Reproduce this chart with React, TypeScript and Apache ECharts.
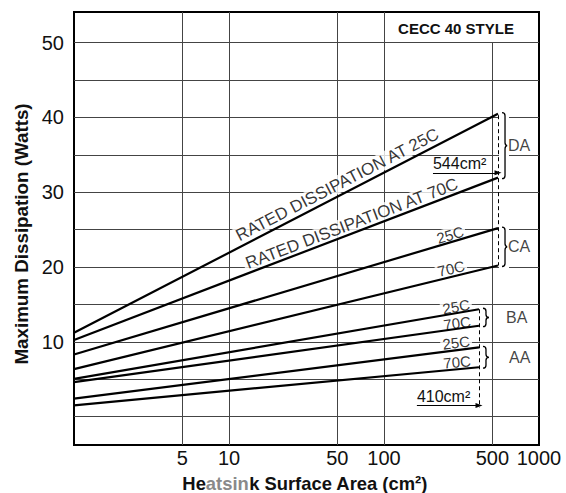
import React, { useEffect, useRef } from "react";
import * as echarts from "echarts";

// ---------- axes ----------
const xMin = 1;
const xMax = 1000;
const yMin = -3.8;
const yMax = 54.1;
const xTickLabels = [5, 10, 50, 100, 500, 1000];
const xGridLines = [5, 10, 50, 100];
const xPartialGridLine = [500];
const yTickLabels = [10, 20, 30, 40, 50];
const yGridLines = [0, 5, 10, 15, 20, 25, 30, 35, 40, 45, 50];

// ---------- curves (area cm², watts) ----------
const curveNames = ["DA 25C", "DA 70C", "CA 25C", "CA 70C", "BA 25C", "BA 70C", "AA 25C", "AA 70C"];
const startArea = [1, 1, 1, 1, 1, 1, 1, 1];
const startWatts = [11.2, 10.25, 8.3, 6.35, 5.05, 4.6, 2.4, 1.5];
const endArea = [544, 544, 544, 544, 410, 410, 410, 410];
const endWatts = [40.5, 31.95, 25.2, 20.2, 14.35, 12.15, 9.25, 6.6];

// ---------- curve annotations ----------
const curveLabels = [
  "RATED DISSIPATION AT 25C",
  "RATED DISSIPATION AT 70C",
  "25C",
  "70C",
  "25C",
  "70C",
  "25C",
  "70C",
];
const curveLabelArea = [50, 62, 267, 271, 292, 296, 292, 296];
const curveLabelWatts = [31.0, 25.8, 24.3, 19.8, 14.7, 12.5, 9.9, 7.3];

// ---------- groups ----------
const groupNames = ["DA", "CA", "BA", "AA"];
const groupArea = [544, 544, 410, 410];
const groupTopWatts = [40.5, 25.2, 14.35, 9.25];
const groupBottomWatts = [31.95, 20.2, 12.15, 6.6];
const groupLabelArea = [622, 622, 604, 631];

// ---------- area markers ----------
const areaMarkNames = ["544cm²", "410cm²"];
const areaMarkValue = [544, 410];
const areaMarkTopWatts = [40.3, 14.35];
const areaMarkBottomWatts = [20.2, 1.2];
const areaArrowStart = [207, 163];
const areaArrowWatts = [32.6, 1.47];

// ---------- styles ----------
const FONT = "'Liberation Sans', Arial, Helvetica, sans-serif";
const INK = "#111";
const curveLabelSizes = [17, 17, 15, 15, 15, 15, 15, 15];

export default function App() {
  const ref = useRef<HTMLDivElement>(null);

  useEffect(() => {
    if (!ref.current) return;
    const chart = echarts.init(ref.current, null, { renderer: "svg" });

    const gridSeries: any = {
      name: "grid",
      type: "line",
      data: [],
      silent: true,
      markLine: {
        silent: true,
        z: 1,
        symbol: ["none", "none"],
        label: { show: false },
        lineStyle: { type: "solid", color: "#444", width: 1 },
        emphasis: { disabled: true },
        data: [
          ...xGridLines.map((v) => ({ xAxis: v })),
          ...yGridLines.map((v) => ({ yAxis: v })),
          ...xPartialGridLine.map((v) => [
            { coord: [v, yMin] },
            { coord: [v, yGridLines[yGridLines.length - 1]] },
          ]),
        ],
      },
    };

    const curveSeries: any[] = curveNames.map((n, i) => ({
      name: n,
      type: "line",
      z: 10,
      silent: true,
      symbol: "none",
      lineStyle: { color: "#000", width: 2.2 },
      data: [
        [startArea[i], startWatts[i]],
        [endArea[i], endWatts[i]],
      ],
    }));

    const markerSeries: any = {
      name: "markers",
      type: "line",
      data: [],
      silent: true,
      markLine: {
        silent: true,
        z: 8,
        symbol: ["none", "none"],
        emphasis: { disabled: true },
        data: [
          ...areaMarkValue.map((v, i) => [
            {
              coord: [v, areaMarkTopWatts[i]],
              lineStyle: { type: [4, 3], color: "#000", width: 1 },
              label: { show: false },
            },
            { coord: [v, areaMarkBottomWatts[i]] },
          ]),
          ...areaMarkValue.map((v, i) => [
            {
              coord: [areaArrowStart[i], areaArrowWatts[i]],
              symbol: "none",
              lineStyle: { type: "solid", color: "#000", width: 1.2 },
              label: {
                show: true,
                formatter: areaMarkNames[i],
                position: "insideStartTop",
                distance: [0, 1],
                fontSize: 16,
                fontFamily: FONT,
                color: INK,
              },
            },
            { coord: [v, areaArrowWatts[i]], symbol: "triangle", symbolSize: [5, 7] },
          ]),
        ],
      },
    };

    const braceSeries: any = {
      name: "braces",
      type: "custom",
      z: 3,
      silent: true,
      renderItem: (params: any, api: any) => {
        const x = api.value(0);
        const p1 = api.coord([x, api.value(1)]);
        const p2 = api.coord([x, api.value(2)]);
        const w = 6;
        const x0 = p1[0] + 4;
        const y1 = p1[1] - 1;
        const y2 = p2[1] + 1;
        const m = (y1 + y2) / 2;
        const r = 3;
        const xm = x0 + w / 2;
        const d =
          `M${x0} ${y1} Q${xm} ${y1} ${xm} ${y1 + r} L${xm} ${m - r} Q${xm} ${m} ${x0 + w} ${m} ` +
          `Q${xm} ${m} ${xm} ${m + r} L${xm} ${y2 - r} Q${xm} ${y2} ${x0} ${y2}`;
        return {
          type: "group",
          children: [
            {
              type: "rect",
              shape: { x: p1[0] + 1, y: y1 - 2, width: w + 4, height: y2 - y1 + 4 },
              style: { fill: "#fff" },
            },
            {
              type: "path",
              shape: { pathData: d },
              style: { stroke: "#000", fill: "none", lineWidth: 1.3 },
            },
          ],
        };
      },
      data: groupNames.map((g, i) => [groupArea[i], groupTopWatts[i], groupBottomWatts[i]]),
    };

    const baseOption: any = {
      animation: false,
      grid: {
        left: 74,
        right: 27,
        top: 12,
        bottom: 48,
        show: true,
        borderColor: "#000",
        borderWidth: 2,
        backgroundColor: "transparent",
      },
      xAxis: {
        type: "log",
        logBase: 10,
        min: xMin,
        max: xMax,
        axisLine: { show: false },
        axisTick: { show: false },
        splitLine: { show: false },
        minorSplitLine: { show: false },
        axisLabel: {
          customValues: xTickLabels,
          fontSize: 20,
          fontFamily: FONT,
          color: INK,
          margin: 3,
          formatter: (v: number) => String(Math.round(v)),
        },
      },
      yAxis: {
        type: "value",
        min: yMin,
        max: yMax,
        axisLine: { show: false },
        axisTick: { show: false },
        splitLine: { show: false },
        axisLabel: {
          customValues: yTickLabels,
          fontSize: 20,
          fontFamily: FONT,
          color: INK,
          margin: 10,
        },
      },
      graphic: [
        {
          type: "text",
          x: 456,
          y: 28,
          z: 20,
          style: {
            text: "CECC 40 STYLE",
            align: "center",
            verticalAlign: "middle",
            fontSize: 15,
            fontWeight: "bold",
            fontFamily: FONT,
            fill: INK,
          },
        },
        {
          type: "text",
          x: 21,
          y: 234,
          rotation: Math.PI / 2,
          style: {
            text: "Maximum Dissipation (Watts)",
            align: "center",
            verticalAlign: "middle",
            fontSize: 18.8,
            fontWeight: "bold",
            fontFamily: FONT,
            fill: INK,
          },
        },
        {
          type: "text",
          x: 305,
          y: 483,
          style: {
            text: "{b|He}{g|atsin}{b|k Surface Area (cm²)}",
            align: "center",
            verticalAlign: "middle",
            fontSize: 18.4,
            fontWeight: "bold",
            fontFamily: FONT,
            fill: INK,
            rich: {
              b: { fontSize: 18.4, fontWeight: "bold", fontFamily: FONT, fill: INK },
              g: { fontSize: 18.4, fontWeight: "bold", fontFamily: FONT, fill: "#8a8a8a" },
            },
          },
        },
      ],
      series: [gridSeries, ...curveSeries, markerSeries, braceSeries],
    };

    chart.setOption(baseOption);

    const angles = curveNames.map((_, i) => {
      const p0 = chart.convertToPixel({ gridIndex: 0 }, [startArea[i], startWatts[i]]) as number[];
      const p1 = chart.convertToPixel({ gridIndex: 0 }, [endArea[i], endWatts[i]]) as number[];
      return (Math.atan2(p0[1] - p1[1], p1[0] - p0[0]) * 180) / Math.PI;
    });

    const labelSeries: any = {
      name: "labels",
      type: "scatter",
      z: 5,
      silent: true,
      symbol: "circle",
      symbolSize: 1,
      itemStyle: { color: "rgba(0,0,0,0)" },
      labelLayout: { hideOverlap: false },
      data: [
        ...curveLabels.map((t, i) => ({
          value: [curveLabelArea[i], curveLabelWatts[i]],
          label: {
            show: true,
            formatter: t,
            position: "inside",
            align: "center",
            verticalAlign: "middle",
            rotate: angles[i],
            fontSize: curveLabelSizes[i],
            fontFamily: FONT,
            color: "#000",
            backgroundColor: "#fff",
            padding: [0, 2],
          },
        })),
        ...groupNames.map((g, i) => ({
          value: [groupLabelArea[i], (groupTopWatts[i] + groupBottomWatts[i]) / 2],
          label: {
            show: true,
            formatter: g,
            position: "inside",
            align: "left",
            verticalAlign: "middle",
            fontSize: 16,
            fontFamily: FONT,
            color: INK,
            backgroundColor: "#fff",
            padding: [0, 1],
          },
        })),
      ],
    };

    chart.setOption({
      series: [gridSeries, ...curveSeries, markerSeries, braceSeries, labelSeries],
    });

    return () => chart.dispose();
  }, []);

  return (
    <div
      ref={ref}
      style={{ position: "fixed", left: 0, top: 0, width: 566, height: 493, background: "#fff" }}
    />
  );
}
